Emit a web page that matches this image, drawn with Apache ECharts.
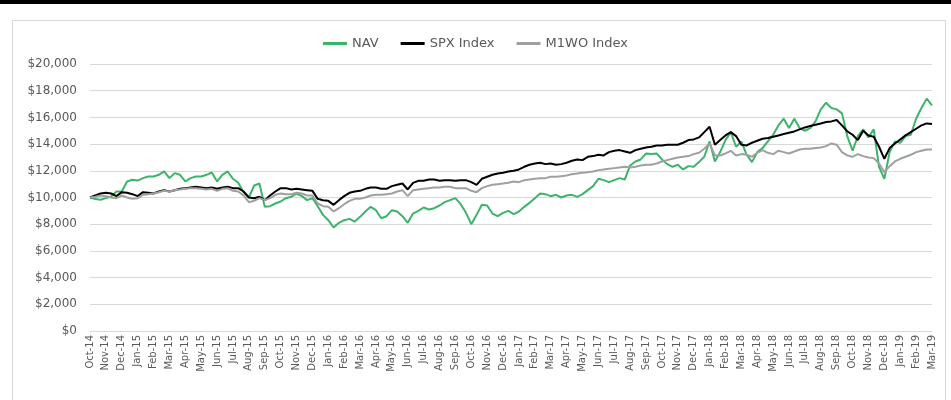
<!DOCTYPE html>
<html>
<head>
<meta charset="utf-8">
<title>NAV vs SPX vs M1WO</title>
<script src="https://cdn.jsdelivr.net/npm/echarts@6.0.0/dist/echarts.min.js"></script>
<style>
  html, body { margin: 0; padding: 0; background: #fff; }
  #page { position: relative; width: 951px; height: 400px; overflow: hidden; }
  #topbar { position: absolute; left: 0; top: 0; width: 951px; height: 4px; background: #000; }
  #frame { position: absolute; left: 12px; top: 20px; width: 932px; height: 400px; border: 1px solid #d9d9d9; }
  #charts { position: absolute; left: 0; top: 0; width: 951px; height: 400px; }
</style>
</head>
<body>
<div id="page">
  <div id="topbar"></div>
  <div id="frame"></div>
  <div id="charts"></div>
</div>
<script>
// month labels, Oct-14 .. Mar-19
const months = [
  'Oct-14', 'Nov-14', 'Dec-14',
  'Jan-15', 'Feb-15', 'Mar-15', 'Apr-15', 'May-15', 'Jun-15', 'Jul-15', 'Aug-15', 'Sep-15', 'Oct-15', 'Nov-15', 'Dec-15',
  'Jan-16', 'Feb-16', 'Mar-16', 'Apr-16', 'May-16', 'Jun-16', 'Jul-16', 'Aug-16', 'Sep-16', 'Oct-16', 'Nov-16', 'Dec-16',
  'Jan-17', 'Feb-17', 'Mar-17', 'Apr-17', 'May-17', 'Jun-17', 'Jul-17', 'Aug-17', 'Sep-17', 'Oct-17', 'Nov-17', 'Dec-17',
  'Jan-18', 'Feb-18', 'Mar-18', 'Apr-18', 'May-18', 'Jun-18', 'Jul-18', 'Aug-18', 'Sep-18', 'Oct-18', 'Nov-18', 'Dec-18',
  'Jan-19', 'Feb-19', 'Mar-19'
];

// readings taken three times a month (start, ~10th, ~20th)
const nav = [
  10000, 9880, 9830,   9950, 10075, 10450,   10450, 11200, 11325,
  11270, 11450, 11575,   11575, 11700, 11950,   11450, 11825, 11700,
  11200, 11450, 11575,   11575, 11700, 11875,   11200, 11700, 11950,
  11400, 11100, 10400,   10000, 10900, 11050,   9300, 9350, 9550,
  9700, 9950, 10050,   10300, 10100, 9800,   9950, 9350, 8700,
  8300, 7750, 8100,   8300, 8400, 8200,   8550, 8950, 9300,
  9050, 8450, 8600,   9050, 8950, 8600,   8100, 8800, 9000,
  9250, 9100, 9200,   9400, 9650, 9800,   9950, 9500, 8850,
  8000, 8700, 9450,   9400, 8800, 8600,   8850, 9000, 8750,
  8950, 9300, 9600,   9950, 10300, 10250,   10100, 10200, 10000,
  10150, 10200, 10050,   10250, 10550, 10850,   11400, 11300, 11150,
  11300, 11450, 11350,   12400, 12700, 12850,   13300, 13250, 13300,
  12850, 12500, 12300,   12450, 12100, 12350,   12300, 12650, 13050,
  14200, 12700, 13400,   14300, 14900, 13800,   14200, 13200, 12650,
  13400, 13700, 14200,   14700, 15400, 15900,   15200, 15900, 15200,
  15000, 15200, 15700,   16600, 17100, 16700,   16600, 16300, 14600,
  13500, 14600, 15100,   14500, 15100, 12300,   11400, 13400, 14200,
  14100, 14600, 14700,   15900, 16700, 17400,
  16900
];

const spx = [
  10000, 10150, 10300,   10350, 10300, 10100,   10400, 10350, 10250,
  10100, 10400, 10350,   10300, 10450, 10550,   10450, 10550, 10650,
  10700, 10750, 10800,   10750, 10700, 10750,   10650, 10750, 10800,
  10700, 10700, 10450,   10000, 9950, 10050,   9800, 10150, 10450,
  10700, 10700, 10600,   10650, 10600, 10550,   10500, 9900, 9800,
  9750, 9450, 9800,   10100, 10350, 10450,   10500, 10650, 10750,
  10750, 10650, 10650,   10850, 10950, 11050,   10600, 11100, 11250,
  11250, 11350, 11350,   11250, 11300, 11300,   11250, 11300, 11300,
  11150, 10950, 11400,   11550, 11700, 11800,   11850, 11950, 12000,
  12100, 12300, 12450,   12550, 12600, 12500,   12550, 12450, 12500,
  12600, 12750, 12850,   12800, 13050, 13100,   13200, 13150, 13400,
  13500, 13550, 13450,   13350, 13550, 13650,   13750, 13800, 13900,
  13900, 13950, 13950,   13950, 14100, 14300,   14350, 14500, 14900,
  15300, 13950, 14300,   14650, 14900, 14600,   13950, 13900, 14100,
  14250, 14400, 14450,   14550, 14650, 14750,   14850, 14950, 15100,
  15250, 15350, 15450,   15550, 15650, 15700,   15800, 15400, 14950,
  14700, 14300, 15000,   14650, 14550, 13800,   12900, 13700, 14050,
  14350, 14650, 14900,   15150, 15400, 15550,
  15500
];

const m1wo = [
  10000, 10050, 10150,   10100, 10000, 9950,   10150, 10000, 9900,
  9950, 10200, 10250,   10300, 10400, 10500,   10450, 10550, 10600,
  10650, 10700, 10700,   10650, 10600, 10650,   10500, 10650, 10700,
  10500, 10450, 10150,   9650, 9750, 9950,   9800, 9950, 10200,
  10300, 10250, 10250,   10350, 10300, 10150,   10150, 9550, 9350,
  9300, 8950, 9200,   9500, 9750, 9900,   9900, 10000, 10150,
  10200, 10200, 10250,   10300, 10450, 10550,   10100, 10550, 10600,
  10650, 10700, 10750,   10750, 10800, 10800,   10700, 10700, 10700,
  10500, 10400, 10700,   10850, 10950, 11000,   11050, 11100, 11200,
  11150, 11300, 11350,   11400, 11450, 11450,   11550, 11550, 11600,
  11650, 11750, 11800,   11850, 11900, 11950,   12050, 12100, 12150,
  12200, 12250, 12300,   12250, 12300, 12400,   12450, 12450, 12550,
  12700, 12800, 12900,   13000, 13050, 13100,   13250, 13350, 13650,
  14050, 13150, 13150,   13300, 13500, 13150,   13250, 13200, 13050,
  13350, 13550, 13350,   13250, 13500, 13400,   13300, 13450, 13600,
  13650, 13650, 13700,   13750, 13850, 14050,   13950, 13400, 13150,
  13050, 13250, 13100,   13000, 12950, 12550,   11900, 12350, 12700,
  12900, 13050, 13200,   13400, 13500, 13600,
  13600
];

const seriesNames = ['NAV', 'SPX Index', 'M1WO Index'];
const seriesColors = ['#3db36b', '#000000', '#a0a0a0'];

// three slots per month, the last month only has its first slot
const categories = [];
months.forEach((m, i) => {
  categories.push(m);
  if (i < months.length - 1) {
    categories.push('');
    categories.push('');
  }
});

const myChart = echarts.init(document.getElementById('charts'), null, { renderer: 'canvas' });

const baseFont = 'DejaVu Sans';

const option = {
  animation: false,
  color: seriesColors,
  textStyle: { fontFamily: baseFont },
  legend: {
    top: 32,
    left: 'center',
    icon: 'rect',
    itemWidth: 24,
    itemHeight: 3,
    itemGap: 22,
    textStyle: { color: '#595959', fontSize: 13, fontFamily: baseFont },
    data: seriesNames
  },
  grid: { left: 90, right: 19, top: 64, bottom: 69 },
  xAxis: {
    type: 'category',
    boundaryGap: false,
    data: categories,
    axisLine: { lineStyle: { color: '#d9d9d9', width: 1 } },
    axisTick: { show: false },
    axisLabel: {
      interval: 2,
      rotate: 90,
      margin: 4,
      color: '#595959',
      fontSize: 10,
      fontFamily: baseFont,
      hideOverlap: false
    },
    splitLine: { show: false }
  },
  yAxis: {
    type: 'value',
    min: 0,
    max: 20000,
    interval: 2000,
    axisLine: { show: false },
    axisTick: { show: false },
    axisLabel: {
      margin: 13,
      color: '#595959',
      fontSize: 12,
      fontFamily: baseFont,
      formatter: v => '$' + v.toLocaleString('en-US')
    },
    splitLine: { lineStyle: { color: '#d9d9d9', width: 1 } }
  },
  series: [
    { name: 'NAV', type: 'line', data: nav },
    { name: 'SPX Index', type: 'line', data: spx },
    { name: 'M1WO Index', type: 'line', data: m1wo }
  ].map(s => Object.assign(s, {
    showSymbol: false,
    symbol: 'none',
    lineStyle: { width: 2 }
  }))
};

myChart.setOption(option);
</script>
</body>
</html>
